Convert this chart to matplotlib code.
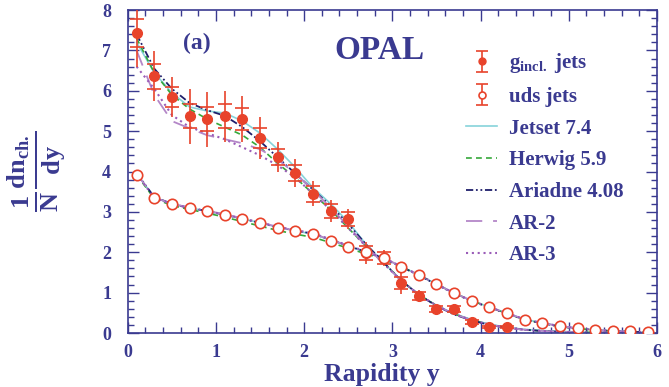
import numpy as np
import matplotlib
matplotlib.use('Agg')
import matplotlib.pyplot as plt
from matplotlib.ticker import MultipleLocator

plt.rcParams['font.family'] = 'Liberation Serif'
plt.rcParams['font.weight'] = 'bold'
plt.rcParams['axes.labelweight'] = 'bold'
plt.rcParams['mathtext.fontset'] = 'custom'
plt.rcParams['mathtext.rm'] = 'Liberation Serif:bold'
plt.rcParams['mathtext.it'] = 'Liberation Serif:bold'
plt.rcParams['mathtext.bf'] = 'Liberation Serif:bold'
plt.rcParams['mathtext.default'] = 'rm'

navy = '#3a3a90'
red = '#e8432b'

# rapidity bin centres
y_bins = [0.1, 0.3, 0.5, 0.7, 0.9, 1.1, 1.3, 1.5, 1.7, 1.9, 2.1, 2.3, 2.5, 2.7, 2.9,
          3.1, 3.3, 3.5, 3.7, 3.9, 4.1, 4.3, 4.5, 4.7, 4.9, 5.1, 5.3, 5.5, 5.7, 5.9]

# inclusive gluon jets (data)
g_y = y_bins[:22]
g_val = [7.43, 6.36, 5.84, 5.37, 5.30, 5.37, 5.30, 4.83, 4.36, 3.96, 3.45, 3.02,
         2.82, 1.98, 1.86, 1.24, 0.92, 0.59, 0.59, 0.27, 0.15, 0.15]
g_tot = [0.85, 0.62, 0.50, 0.68, 0.68, 0.63, 0.58, 0.53, 0.36, 0.35, 0.31, 0.27,
         0.25, 0.27, 0.20, 0.27, 0.15, 0.12, 0.12, 0.08, 0.05, 0.05]
g_stat = [0.35, 0.31, 0.25, 0.30, 0.30, 0.30, 0.27, 0.24, 0.20, 0.20, 0.20, 0.18,
          0.17, 0.18, 0.15, 0.15, 0.10, 0.08, 0.08, 0.05, 0.03, 0.03]

# uds quark jets (data)
q_val = [3.91, 3.34, 3.19, 3.09, 3.02, 2.92, 2.82, 2.72, 2.60, 2.52, 2.45, 2.28,
         2.13, 2.00, 1.86, 1.64, 1.44, 1.21, 0.99, 0.80, 0.65, 0.49, 0.33, 0.24,
         0.17, 0.12, 0.07, 0.05, 0.04, 0.03]

# Monte Carlo predictions, gluon jets
g_jetset = [7.20, 6.45, 5.95, 5.60, 5.50, 5.45, 5.25, 4.95, 4.55, 4.10, 3.60, 3.20,
            2.75, 2.20, 1.75, 1.30, 0.95, 0.68, 0.48, 0.33, 0.22, 0.14, 0.09, 0.06,
            0.04, 0.025, 0.015, 0.01, 0.005, 0.003]
g_herwig = [7.30, 6.45, 5.90, 5.55, 5.30, 5.10, 4.90, 4.60, 4.20, 3.85, 3.45, 3.05,
            2.60, 2.15, 1.75, 1.30, 0.95, 0.68, 0.47, 0.32, 0.21, 0.13, 0.08, 0.05,
            0.03, 0.02, 0.012, 0.008, 0.004, 0.002]
g_ariadne = [7.40, 6.55, 6.05, 5.70, 5.52, 5.38, 5.10, 4.75, 4.35, 3.95, 3.55, 3.15,
             2.70, 2.20, 1.75, 1.30, 0.95, 0.67, 0.46, 0.31, 0.20, 0.13, 0.08, 0.05,
             0.03, 0.02, 0.012, 0.008, 0.004, 0.002]
g_ar2 = [7.00, 5.90, 5.25, 5.07, 4.90, 4.80, 4.70, 4.55, 4.30, 3.95, 3.55, 3.10,
         2.65, 2.15, 1.72, 1.30, 0.95, 0.68, 0.47, 0.32, 0.21, 0.13, 0.08, 0.05,
         0.03, 0.02, 0.012, 0.008, 0.004, 0.002]
g_ar3 = [6.60, 6.05, 5.40, 5.10, 4.95, 4.80, 4.60, 4.40, 4.15, 3.85, 3.45, 3.05,
         2.60, 2.15, 1.72, 1.30, 0.95, 0.68, 0.47, 0.32, 0.21, 0.13, 0.08, 0.05,
         0.03, 0.02, 0.012, 0.008, 0.004, 0.002]

# Monte Carlo predictions, uds jets
q_jetset = [3.95, 3.36, 3.20, 3.10, 3.02, 2.93, 2.83, 2.73, 2.62, 2.53, 2.45, 2.30,
            2.15, 2.00, 1.85, 1.65, 1.44, 1.21, 0.99, 0.80, 0.64, 0.49, 0.34, 0.25,
            0.17, 0.12, 0.08, 0.05, 0.03, 0.02]
q_herwig = [3.92, 3.33, 3.16, 3.06, 2.97, 2.87, 2.76, 2.65, 2.54, 2.45, 2.37, 2.24,
            2.10, 1.96, 1.83, 1.64, 1.44, 1.21, 0.99, 0.80, 0.64, 0.48, 0.33, 0.24,
            0.16, 0.11, 0.07, 0.05, 0.03, 0.02]
q_ariadne = [3.96, 3.37, 3.20, 3.10, 3.02, 2.93, 2.83, 2.73, 2.62, 2.54, 2.46, 2.31,
             2.16, 2.01, 1.85, 1.64, 1.43, 1.20, 0.98, 0.79, 0.63, 0.48, 0.33, 0.24,
             0.16, 0.11, 0.07, 0.05, 0.03, 0.02]
q_ar2 = [3.95, 3.36, 3.20, 3.11, 3.03, 2.94, 2.84, 2.74, 2.63, 2.54, 2.46, 2.31,
         2.16, 2.01, 1.86, 1.65, 1.44, 1.21, 0.99, 0.80, 0.64, 0.49, 0.34, 0.25,
         0.17, 0.12, 0.08, 0.05, 0.03, 0.02]
q_ar3 = [3.94, 3.35, 3.19, 3.10, 3.02, 2.93, 2.84, 2.74, 2.63, 2.55, 2.47, 2.32,
         2.17, 2.02, 1.86, 1.65, 1.44, 1.21, 0.99, 0.80, 0.64, 0.49, 0.34, 0.25,
         0.17, 0.12, 0.08, 0.05, 0.03, 0.02]

fig = plt.figure(figsize=(6.69, 3.87), dpi=100)
ax = fig.add_axes([0.191, 0.1395, 0.791, 0.8345])

styles = {
    'Jetset 7.4': dict(color='#86d3da', ls='-', lw=1.2),
    'Herwig 5.9': dict(color='#35a83a', ls=(0, (3.5, 2.5)), lw=1.2),
    'Ariadne 4.08': dict(color='#1f1f6b', ls=(0, (4, 1.5, 1, 1.5, 1, 1.5)), lw=1.3),
    'AR-2': dict(color='#b487c8', ls=(0, (9, 6)), lw=1.3),
    'AR-3': dict(color='#9a5cb8', ls=(0, (1, 1.8)), lw=1.5),
}
g_models = [g_jetset, g_herwig, g_ariadne, g_ar2, g_ar3]
q_models = [q_jetset, q_herwig, q_ariadne, q_ar2, q_ar3]

model_handles = []
for (name, st), gm, qm in zip(styles.items(), g_models, q_models):
    h, = ax.plot(y_bins, gm, label=name, zorder=2, **st)
    ax.plot(y_bins, qm, zorder=2, **st)
    model_handles.append(h)

# gluon jets: total error bars, with stat. error marked by crossbars
ax.errorbar(g_y, g_val, yerr=g_tot, fmt='o', color=red, ms=7, capsize=0,
            elinewidth=1.2, zorder=4)
g_val_a = np.array(g_val)
g_stat_a = np.array(g_stat)
ax.plot(g_y, g_val_a + g_stat_a, ls='none', marker='_', ms=10, mew=1.2, color=red, zorder=4)
ax.plot(g_y, g_val_a - g_stat_a, ls='none', marker='_', ms=10, mew=1.2, color=red, zorder=4)

ax.errorbar(y_bins, q_val, yerr=0.03, fmt='o', mfc='white', mec=red, color=red,
            ms=7.5, mew=1.2, capsize=0, zorder=4)

# legend handles with capped error bars (placed outside the visible range)
hg_leg = ax.errorbar([-5], [-5], yerr=[1], fmt='o', color=red, ms=5, capsize=4,
                     elinewidth=1.2, capthick=1.2)
hq_leg = ax.errorbar([-5], [-5], yerr=[1], fmt='o', mfc='white', mec=red, color=red,
                     ms=5, mew=1.2, capsize=4, elinewidth=1.2, capthick=1.2)
leg = ax.legend([hg_leg, hq_leg] + model_handles,
                [r'$\mathrm{g_{incl.}}$ jets', 'uds jets'] + list(styles.keys()),
                loc='upper left', bbox_to_anchor=(0.64, 0.872), frameon=False,
                fontsize=15, labelspacing=0.56, handlelength=1.45, handletextpad=0.6,
                borderpad=0, borderaxespad=0)
for t in leg.get_texts():
    t.set_color(navy)

ax.text(0.78, 7.18, '(a)', fontsize=17, color=navy, ha='center', va='center')
ax.text(2.85, 7.0, 'OPAL', fontsize=24, color=navy, ha='center', va='center')

ax.set_xlim(0, 6)
ax.set_ylim(0, 8)
ax.xaxis.set_major_locator(MultipleLocator(1))
ax.xaxis.set_minor_locator(MultipleLocator(0.2))
ax.yaxis.set_major_locator(MultipleLocator(1))
ax.yaxis.set_minor_locator(MultipleLocator(0.2))
ax.tick_params(which='both', direction='in', top=True, right=True, color=navy,
               labelcolor=navy, labelsize=13, width=1.0)
ax.tick_params(which='major', length=8)
ax.tick_params(which='minor', length=4)
ax.tick_params(axis='y', pad=12)
ax.tick_params(axis='x', pad=8)
for s in ax.spines.values():
    s.set_color(navy)
    s.set_linewidth(1.2)

ax.set_xlabel('Rapidity y', fontsize=18.5, color=navy)
ax.xaxis.set_label_coords(0.48, -0.092)
ax.set_ylabel(r'$\frac{1}{N}\frac{dn_{ch.}}{dy}$', fontsize=27, color=navy)
ax.yaxis.set_label_coords(-0.115, 0.5)

fig.savefig('out.png', dpi=100)
